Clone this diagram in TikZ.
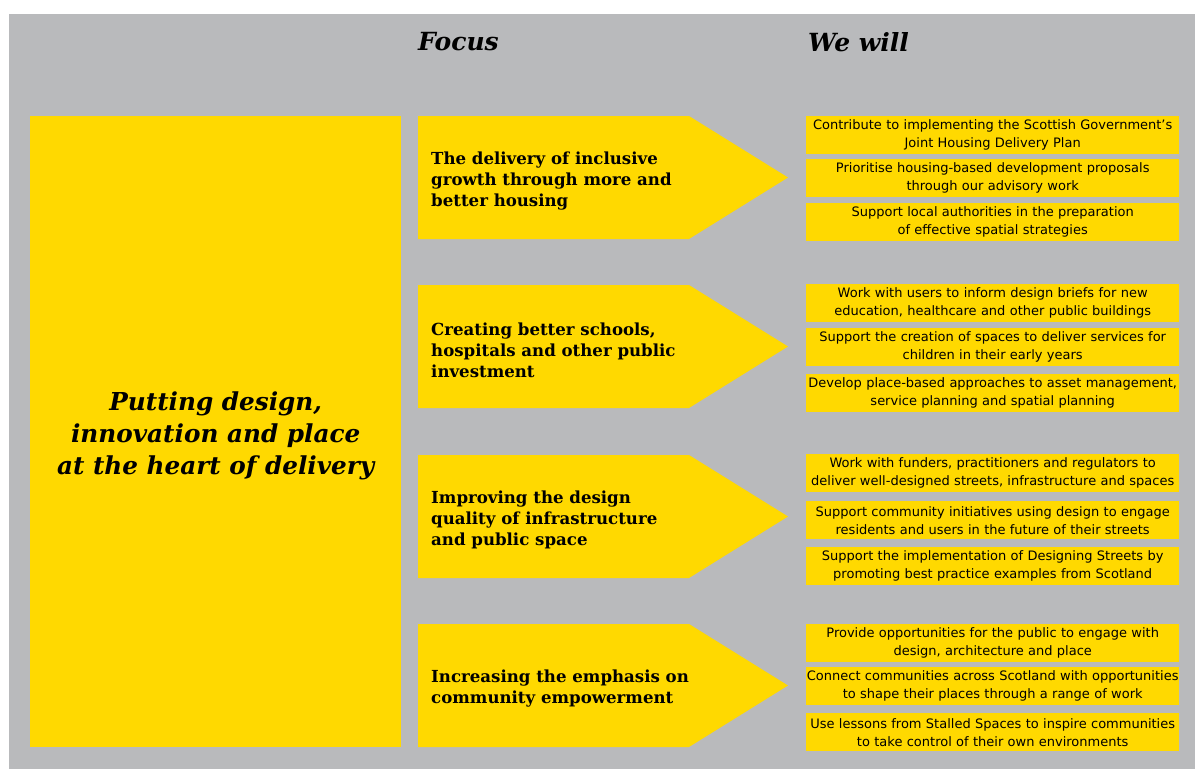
\documentclass[tikz,border=0pt]{standalone}
\usepackage{fontspec}
\setmainfont{DejaVu Serif}
\newfontfamily\seriffam{DejaVu Serif}
\newfontfamily\sansfam{DejaVu Sans}
\definecolor{panelgray}{HTML}{B9BABC}
\definecolor{gold}{HTML}{FFD900}
\begin{document}
\begin{tikzpicture}[x=1pt,y=-1pt,
  heading/.style={anchor=west,inner sep=0pt,font=\seriffam\bfseries\itshape\fontsize{25}{28}\selectfont},
  focustext/.style={anchor=west,inner sep=0pt,align=left,font=\seriffam\bfseries\fontsize{16.6}{21}\selectfont},
  actionbox/.style={fill=gold,anchor=north west,minimum width=373pt,minimum height=38pt,inner sep=0pt,
    text width=373pt,align=center,font=\sansfam\fontsize{13}{18}\selectfont},
  arrowfill/.style={fill=gold}]
\useasboundingbox (0,0) rectangle (1195,769);
\fill[white] (0,0) rectangle (1195,769);
\fill[panelgray] (9,14) rectangle (1195,769);

% column headings
\node[heading] (hfocus) at (418,42) {Focus};
\node[heading] (hwill) at (808,42) {We will};

% main theme panel and its caption
\node[fill=gold,anchor=north west,minimum width=371pt,minimum height=631pt,inner sep=0pt]
  (theme) at (30,116) {};
\node[align=center,inner sep=0pt,font=\seriffam\bfseries\itshape\fontsize{24.7}{32}\selectfont]
  (themetext) at ([yshift=-4pt]theme.center) {Putting design,\\innovation and place\\at the heart of delivery};

% focus arrows (top edge, height 123)
\foreach \t in {116,285,455,624}{
  \fill[arrowfill] (418,\t) -- (689,\t) -- (788,\t+61.5) -- (689,\t+123) -- (418,\t+123) -- cycle;
}
\node[focustext] (f1) at (431,181) {The delivery of inclusive\\growth through more and\\better housing};
\node[focustext] (f2) at (431,350) {Creating better schools,\\hospitals and other public\\investment};
\node[focustext] (f3) at (431,520) {Improving the design\\quality of infrastructure\\and public space};
\node[focustext] (f4) at (431,689) {Increasing the emphasis on\\community empowerment};

% actions
\node[actionbox] (a11) at (806,116) {Contribute to implementing the Scottish Government’s\\Joint Housing Delivery Plan};
\node[actionbox] (a12) at (806,159) {Prioritise housing-based development proposals\\through our advisory work};
\node[actionbox] (a13) at (806,203) {Support local authorities in the preparation\\of effective spatial strategies};

\node[actionbox] (a21) at (806,284) {Work with users to inform design briefs for new\\education, healthcare and other public buildings};
\node[actionbox] (a22) at (806,328) {Support the creation of spaces to deliver services for\\children in their early years};
\node[actionbox] (a23) at (806,374) {Develop place-based approaches to asset management,\\service planning and spatial planning};

\node[actionbox] (a31) at (806,454) {Work with funders, practitioners and regulators to\\deliver well-designed streets, infrastructure and spaces};
\node[actionbox] (a32) at (806,501) {Support community initiatives using design to engage\\residents and users in the future of their streets};
\node[actionbox] (a33) at (806,547) {Support the implementation of Designing Streets by\\promoting best practice examples from Scotland};

\node[actionbox] (a41) at (806,624) {Provide opportunities for the public to engage with\\design, architecture and place};
\node[actionbox] (a42) at (806,667) {Connect communities across Scotland with opportunities\\to shape their places through a range of work};
\node[actionbox] (a43) at (806,713) {Use lessons from Stalled Spaces to inspire communities\\to take control of their own environments};
\end{tikzpicture}
\end{document}
